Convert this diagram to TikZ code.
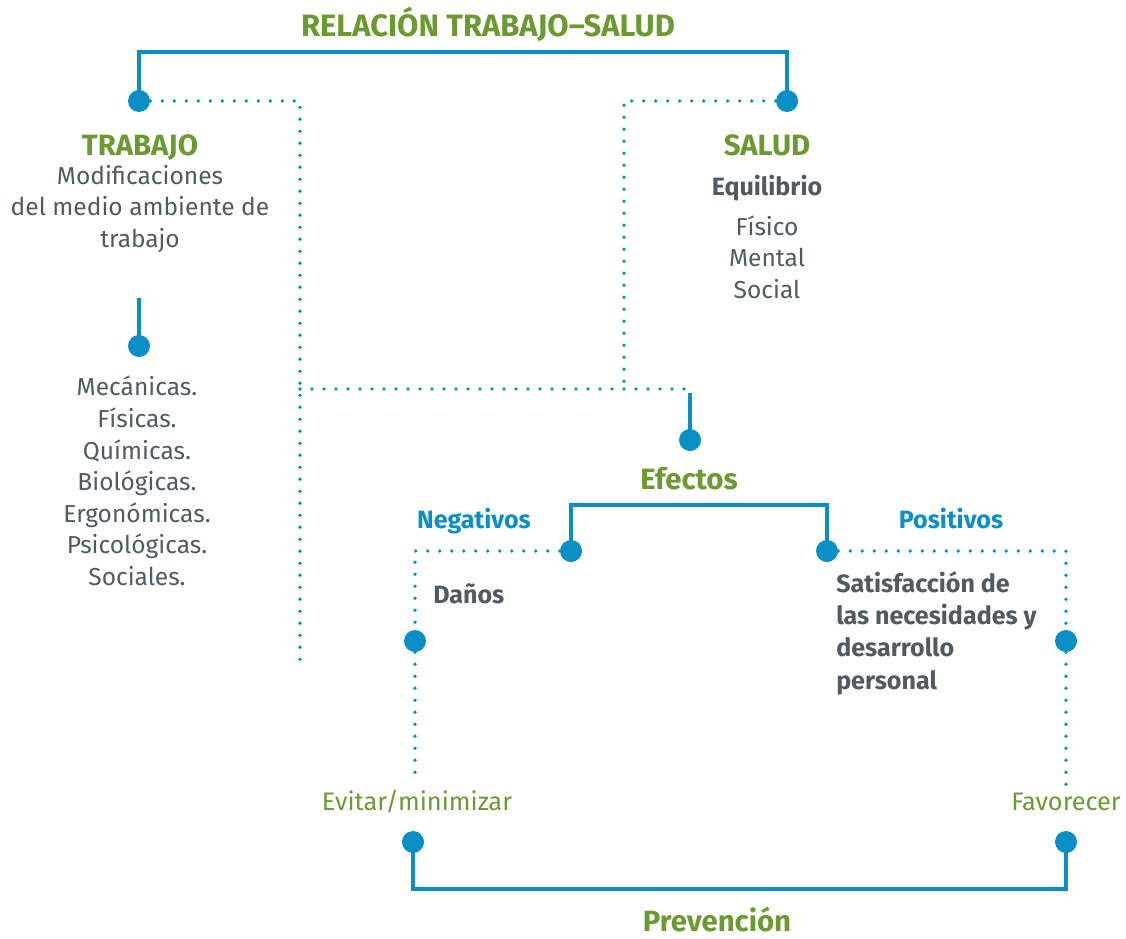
\documentclass[tikz,border=0pt]{standalone}
\usepackage{fontspec}
\setmainfont{Fira Sans}
\usepackage{tikz}
\usetikzlibrary{positioning}
\definecolor{RelBlue}{HTML}{0A8EC6}
\definecolor{RelGreen}{HTML}{6B9A31}
\definecolor{RelGray}{HTML}{505B61}

\begin{document}
\begin{tikzpicture}[x=0.75pt,y=-0.75pt,
  every node/.style={font=\fontsize{18.4}{23.7}\selectfont,text=RelGray,inner sep=0pt},
  punto/.style={circle,fill=RelBlue,minimum size=16.5pt,inner sep=0pt},
  linea/.style={RelBlue,line width=3pt},
  puntos/.style={RelBlue,line width=2.7pt,line cap=round,dash pattern=on 0pt off 9pt},
  titulo/.style={text=RelGreen,anchor=base,font=\fontsize{22}{24}\selectfont\bfseries},
  subt/.style={font=\fontsize{18.8}{24.2}\selectfont\bfseries},
  rama/.style={text=RelBlue,anchor=base,font=\fontsize{18.8}{20}\selectfont\bfseries},
  accion/.style={text=RelGreen,anchor=base,font=\fontsize{19}{20}\selectfont}]
\useasboundingbox (0,0) rectangle (1126,938);
% puntos
\node[punto] (dTrab) at (139,101) {};
\node[punto] (dSal) at (787,101) {};
\node[punto] (dAgen) at (139,346) {};
\node[punto] (dEfe) at (690,440) {};
\node[punto] (dNeg) at (571,551) {};
\node[punto] (dPos) at (827,551) {};
\node[punto] (dDan) at (415,641) {};
\node[punto] (dSat) at (1066,641) {};
\node[punto] (dEvi) at (413,842) {};
\node[punto] (dFav) at (1066,842) {};
% extremos libres y esquinas
\coordinate (cTop) at (463,52);
\coordinate (cAgen) at (139,298);
\coordinate (cIzq) at (300,101);
\coordinate (cIzqFin) at (300,660);
\coordinate (cDer) at (624,101);
\coordinate (cDerFin) at (624,385);
\coordinate (cCruce) at (300,389);
\coordinate (cEfe) at (690,389);
\coordinate (cEfeTop) at (690,393);
\coordinate (cRama) at (700,505);
\coordinate (cNeg) at (415,551);
\coordinate (cNegFin) at (415,780);
\coordinate (cPos) at (1066,551);
\coordinate (cPosFin) at (1066,790);
\coordinate (cPrev) at (740,889);
% textos
\node[titulo,font=\fontsize{23.2}{24}\selectfont\bfseries] (rel) at (488,37) {RELACIÓN TRABAJO–SALUD};
\node[titulo] (trab) at (140,156) {TRABAJO};
\node[align=center] (modif) at (140,209) {Modificaciones\\del medio ambiente de\\trabajo};
\node[align=center] (agentes) at (137,481) {Mecánicas.\\Físicas.\\Químicas.\\Biológicas.\\Ergonómicas.\\Psicológicas.\\Sociales.};
\node[titulo] (salud) at (767,156) {SALUD};
\node[subt,anchor=base] (equi) at (767,195) {Equilibrio};
\node[align=center] (dim) at (767,257) {Físico\\Mental\\Social};
\node[titulo] (efe) at (689,489) {Efectos};
\node[rama] (neg) at (474,528) {Negativos};
\node[rama] (pos) at (951,528) {Positivos};
\node[subt,anchor=base west] (dan) at (433,603) {Daños};
\node[subt,align=left,anchor=west] (sat) at (836,633) {Satisfacción de\\las necesidades y\\desarrollo\\personal};
\node[accion] (evi) at (417,810) {Evitar/minimizar};
\node[accion] (fav) at (1066,810) {Favorecer};
\node[titulo] (prev) at (717,931) {Prevención};
% conectores
\draw[linea] (dTrab.center) -- (dTrab |- cTop) -- (dSal |- cTop) -- (dSal.center);
\draw[linea] (cAgen) -- (dAgen.center);
\draw[puntos] (dTrab) -- (cIzq) -- (cIzqFin);
\draw[puntos] (dSal) -- (cDer) -- (cDerFin);
\draw[puntos] (cCruce) -- (cEfe);
\draw[linea] (cEfeTop) -- (dEfe.center);
\draw[linea] (dNeg.center) -- (dNeg |- cRama) -- (dPos |- cRama) -- (dPos.center);
\draw[puntos] (dNeg) -- (cNeg) -- (dDan) -- (cNegFin);
\draw[puntos] (dPos) -- (cPos) -- (dSat) -- (cPosFin);
\draw[linea] (dEvi.center) -- (dEvi |- cPrev) -- (dFav |- cPrev) -- (dFav.center);
\end{tikzpicture}
\end{document}
